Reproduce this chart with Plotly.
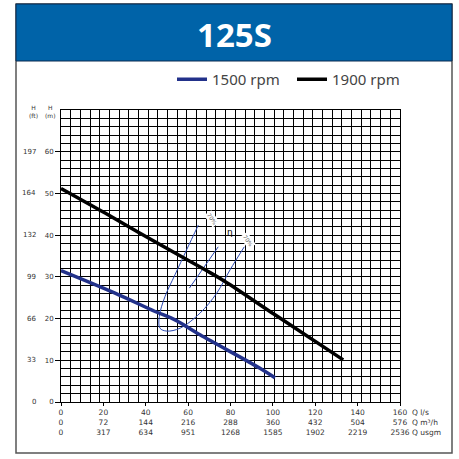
import plotly.graph_objects as go

# ---- data ----
q_1900 = [0, 20.8, 44.4, 68.0, 77.4, 101.0, 133.2]
h_1900 = [51.2, 45.3, 38.4, 31.7, 28.9, 20.9, 10.1]
q_1500 = [0, 25.5, 44.4, 53.8, 65.6, 93.9, 101.0]
h_1500 = [31.5, 26.1, 21.7, 19.7, 16.1, 8.1, 5.8]

eff70_q = [64.8, 59.3, 53.8, 49.1, 46.4, 46.7, 49.9, 56.2, 65.6, 73.5, 79.8, 86.5]
eff70_h = [42.4, 36.5, 30.5, 25.3, 20.5, 17.7, 17.0, 17.7, 21.3, 26.1, 31.7, 37.2]
effmid_q = [60.6, 74.2]
effmid_h = [27.3, 37.2]

eff_label_q = [71.3, 88.4]
eff_label_h = [43.9, 38.7]
eff_label_text = ["70%", "70%"]
eta_q, eta_h = 79.8, 40.8

x_ls = [0, 20, 40, 60, 80, 100, 120, 140, 160]
x_m3h = [0, 72, 144, 216, 288, 360, 432, 504, 576]
x_usgm = [0, 317, 634, 951, 1268, 1585, 1902, 2219, 2536]
y_m = [0, 10, 20, 30, 40, 50, 60]
y_ft = [0, 33, 66, 99, 132, 164, 197]

title = "125S"

# ---- figure ----
W = H = 459
L, R, T, B = 61, 400, 110, 402  # plot area pixels
def px(xp):
    return (xp - L) / (R - L)
def py(yp):
    return (B - yp) / (B - T)

BLUE = "#22318a"
fig = go.Figure()
fig.add_trace(go.Scatter(x=eff70_q, y=eff70_h, mode="lines", line=dict(color="#2a48b0", width=1, shape="spline"),
                         showlegend=False, hoverinfo="skip"))
fig.add_trace(go.Scatter(x=effmid_q, y=effmid_h, mode="lines", line=dict(color="#2a48b0", width=1),
                         showlegend=False, hoverinfo="skip"))
fig.add_trace(go.Scatter(x=q_1500, y=h_1500, mode="lines", name="1500 rpm", legend="legend",
                         line=dict(color=BLUE, width=3.5, shape="spline")))
fig.add_trace(go.Scatter(x=q_1900, y=h_1900, mode="lines", name="1900 rpm", legend="legend2",
                         line=dict(color="black", width=3.5, shape="spline")))

ann = []
for q, h, t in zip(eff_label_q, eff_label_h, eff_label_text):
    ann.append(dict(x=q, y=h, text=t, showarrow=False, textangle=55, bgcolor="white",
                    xanchor="center", yanchor="middle",
                    font=dict(size=5.5, color="#555", family="DejaVu Sans")))
ann.append(dict(x=eta_q, y=eta_h, text="η", showarrow=False, xanchor="center", yanchor="middle",
                font=dict(size=9, color="black", family="DejaVu Sans")))
for m, f in zip(y_m, y_ft):
    ann.append(dict(x=px(38), xref="paper", y=m, yref="y", text=str(f), xanchor="right", yanchor="middle",
                    showarrow=False, font=dict(size=7, color="#333", family="DejaVu Sans")))
ann.append(dict(x=px(33), xref="paper", y=py(111), yref="paper", text="H<br>(ft)", showarrow=False,
                xanchor="center", yanchor="middle", font=dict(size=6, color="#333", family="DejaVu Sans")))
ann.append(dict(x=px(50), xref="paper", y=py(111), yref="paper", text="H<br>(m)", showarrow=False,
                xanchor="center", yanchor="middle", font=dict(size=6, color="#333", family="DejaVu Sans")))
ann.append(dict(x=px(410), xref="paper", y=py(406), yref="paper", yanchor="top", xanchor="left",
                text="Q l/s<br>Q m³/h<br>Q usgm", showarrow=False, align="left",
                font=dict(size=7.5, color="#333", family="DejaVu Sans")))
ann.append(dict(x=px(234), xref="paper", y=py(34), yref="paper", text="<b>%s</b>" % title, showarrow=False,
                xanchor="center", yanchor="middle",
                font=dict(size=33, color="white", family="Noto Sans")))

shapes = [
    dict(type="rect", xref="paper", yref="paper", x0=px(16), x1=px(452), y0=py(453), y1=py(4),
         line=dict(color="#555", width=1.5), fillcolor="rgba(0,0,0,0)", layer="below"),
    dict(type="rect", xref="paper", yref="paper", x0=px(16), x1=px(452), y0=py(61), y1=py(4),
         line=dict(color="#0a2a50", width=1), fillcolor="#0063a8", layer="below"),
]

ticktext = ["%d<br>%d<br>%d" % (a, b, c) for a, b, c in zip(x_ls, x_m3h, x_usgm)]

legend_style = dict(orientation="h", xanchor="left", yanchor="top",
                    font=dict(size=15, color="#444", family="Noto Sans"), itemwidth=30,
                    bgcolor="rgba(0,0,0,0)")

fig.update_layout(
    width=W, height=H, autosize=False,
    margin=dict(l=L, r=W - R, t=T, b=H - B),
    paper_bgcolor="white", plot_bgcolor="white",
    annotations=ann, shapes=shapes,
    legend=dict(x=px(172), y=py(63), **legend_style),
    legend2=dict(x=px(292), y=py(63), **legend_style),
    xaxis=dict(range=[0, 160], tickmode="array", tickvals=x_ls, ticktext=ticktext,
               showgrid=False, zeroline=False, showline=True, linecolor="black", mirror=True,
               ticks="outside", ticklen=3, tickcolor="black",
               tickfont=dict(size=7.5, color="#333", family="DejaVu Sans"),
               minor=dict(tickmode="linear", tick0=0, dtick=160 / 35, showgrid=True,
                          gridcolor="black", gridwidth=1.2, ticks="")),
    yaxis=dict(range=[0, 70], tickmode="array", tickvals=y_m, ticktext=[str(v) for v in y_m],
               showgrid=False, zeroline=False, showline=True, linecolor="black", mirror=True,
               ticks="outside", ticklen=5, tickcolor="black",
               tickfont=dict(size=7, color="#333", family="DejaVu Sans"),
               minor=dict(tickmode="linear", tick0=0, dtick=2, showgrid=True,
                          gridcolor="black", gridwidth=1.2, ticks="")),
)
fig.write_html("out.html", config={"displayModeBar": False},
               post_script="document.body.style.margin='0';document.body.style.overflow='hidden';")
